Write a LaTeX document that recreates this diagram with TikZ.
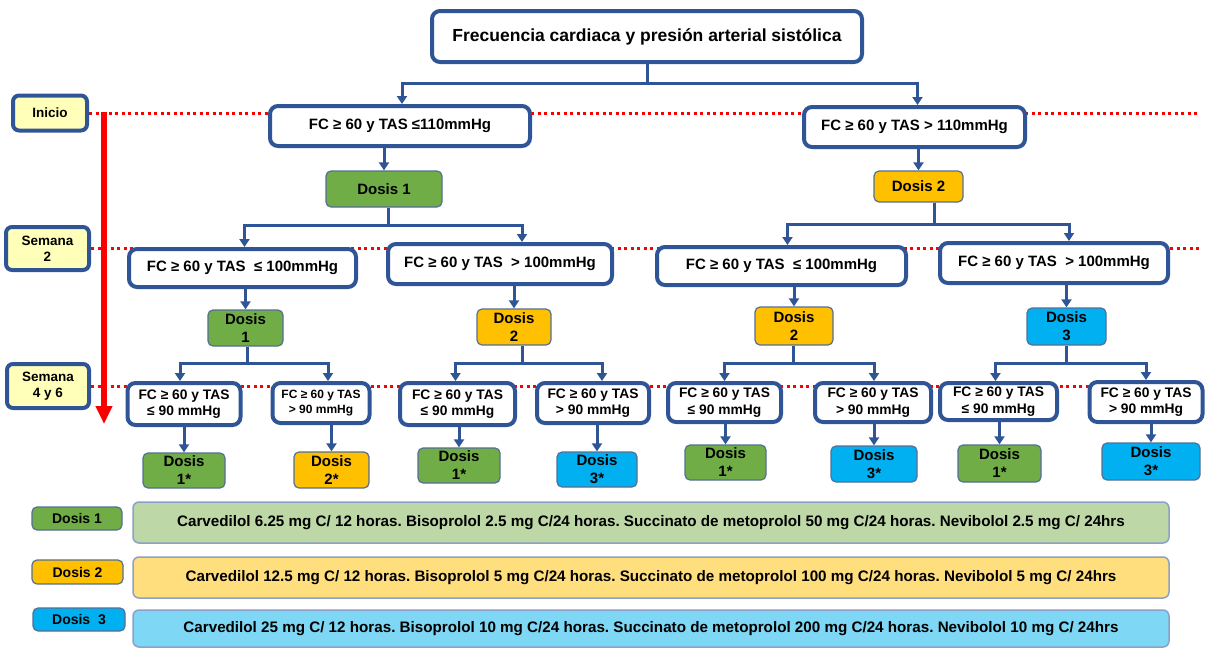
\documentclass[tikz,border=0pt]{standalone}
\usepackage{fontspec}
\setmainfont{Liberation Sans}
\usetikzlibrary{arrows.meta}
\frenchspacing
\definecolor{azul}{RGB}{47,85,151}
\definecolor{rojo}{RGB}{250,0,0}
\definecolor{amarillo}{RGB}{255,255,185}
\definecolor{verde}{RGB}{112,173,71}
\definecolor{naranja}{RGB}{255,192,0}
\definecolor{celeste}{RGB}{0,176,240}
\definecolor{borde}{RGB}{85,110,150}
\definecolor{verdeclaro}{RGB}{189,215,166}
\definecolor{amarilloclaro}{RGB}{255,222,125}
\definecolor{celesteclaro}{RGB}{125,215,245}
\definecolor{grisazul}{RGB}{140,160,200}
\begin{document}
\begin{tikzpicture}[x=1pt, y=-1pt,
  caja/.style={draw=azul, line width=4pt, rounded corners=8pt, fill=white,
    align=center, inner sep=0pt, font=\bfseries\fontsize{15}{18}\selectfont},
  chica/.style={caja, font=\bfseries\fontsize{13.8}{16.7}\selectfont},
  etapa/.style={draw=azul, line width=4pt, rounded corners=6pt, fill=amarillo,
    align=center, inner sep=0pt, font=\bfseries\fontsize{13.5}{16}\selectfont},
  dosis/.style={draw=borde, line width=1.2pt, rounded corners=5pt, align=center,
    inner sep=0pt, font=\bfseries\fontsize{15}{18}\selectfont},
  dverde/.style={dosis, fill=verde},
  dnaranja/.style={dosis, fill=naranja},
  dceleste/.style={dosis, fill=celeste},
  barra/.style={draw=grisazul, line width=1.5pt, rounded corners=6pt, inner sep=0pt,
    minimum width=1036pt, font=\bfseries\fontsize{15.2}{18}\selectfont},
  flecha/.style={draw=azul, line width=3pt, -{Triangle[width=10pt,length=8pt]}},
  guia/.style={draw=rojo, line width=3pt, dash pattern=on 3pt off 3.5pt},
  tiempo/.style={draw=rojo, line width=6pt, -{Triangle[width=16pt,length=18pt]}}]
  \useasboundingbox (0,0) rectangle (1205,649);
  % etapas
  \node[etapa, minimum width=74pt, minimum height=35pt] (inicio) at (50,113) {Inicio};
  \node[etapa, minimum width=83pt, minimum height=43pt] (sem2) at (47.5,248.5) {Semana\\2};
  \node[etapa, minimum width=82pt, minimum height=44pt] (sem4) at (48,386) {Semana\\4 y 6};
  \coordinate (fin) at (1200,0);
  \foreach \n in {inicio, sem2, sem4}
    \draw[guia] (\n.east) -- (\n.east -| fin);
  \coordinate (t0) at (104,112);
  \coordinate (t1) at (104,424);
  \draw[tiempo] (t0) -- (t1);
  % raiz y primer nivel
  \node[caja, minimum width=430pt, minimum height=51pt, font=\bfseries\fontsize{17.5}{20}\selectfont]
    (raiz) at (647,36.5) {Frecuencia cardiaca y presión arterial sistólica};
  \node[caja, minimum width=260pt, minimum height=40pt] (l1a) at (400,126) {FC ≥ 60 y TAS ≤110mmHg};
  \node[caja, minimum width=221pt, minimum height=40pt] (l1b) at (914.5,127) {FC ≥ 60 y TAS > 110mmHg};
  \node[dverde, minimum width=116pt, minimum height=36pt] (da) at (384,189) {Dosis 1};
  \node[dnaranja, minimum width=89pt, minimum height=31pt] (db) at (918.5,186.5) {Dosis 2};
  % semana 2
  \node[caja, minimum width=227pt, minimum height=38pt] (l2a) at (242.5,268) {FC ≥ 60 y TAS \ ≤ 100mmHg};
  \node[caja, minimum width=224pt, minimum height=40pt] (l2b) at (500,264) {FC ≥ 60 y TAS \ > 100mmHg};
  \node[caja, minimum width=249pt, minimum height=38pt] (l2c) at (781.5,266) {FC ≥ 60 y TAS \ ≤ 100mmHg};
  \node[caja, minimum width=228pt, minimum height=40pt] (l2d) at (1054,263) {FC ≥ 60 y TAS \ > 100mmHg};
  \node[dverde, minimum width=75pt, minimum height=36pt] (ea) at (245.5,328) {Dosis\\1};
  \node[dnaranja, minimum width=74pt, minimum height=36pt] (eb) at (514,327) {Dosis\\2};
  \node[dnaranja, minimum width=78pt, minimum height=38pt] (ec) at (794,326) {Dosis\\2};
  \node[dceleste, minimum width=79pt, minimum height=37pt] (ed) at (1066.5,326.5) {Dosis\\3};
  % semanas 4 y 6
  \node[chica, minimum width=113pt, minimum height=42pt] (l3a) at (184,404) {FC ≥ 60 y TAS\\≤ 90 mmHg};
  \node[chica, minimum width=97pt, minimum height=40pt, font=\bfseries\fontsize{12}{15.5}\selectfont]
    (l3b) at (321,403) {FC ≥ 60 y TAS\\> 90 mmHg};
  \node[chica, minimum width=115pt, minimum height=42pt] (l3c) at (457.5,404) {FC ≥ 60 y TAS\\≤ 90 mmHg};
  \node[chica, minimum width=112pt, minimum height=40pt] (l3d) at (593,403) {FC ≥ 60 y TAS\\> 90 mmHg};
  \node[chica, minimum width=113pt, minimum height=39pt] (l3e) at (724.5,402.5) {FC ≥ 60 y TAS\\≤ 90 mmHg};
  \node[chica, minimum width=116pt, minimum height=39pt] (l3f) at (873,402.5) {FC ≥ 60 y TAS\\> 90 mmHg};
  \node[chica, minimum width=117pt, minimum height=37pt] (l3g) at (998.5,401.5) {FC ≥ 60 y TAS\\≤ 90 mmHg};
  \node[chica, minimum width=113pt, minimum height=40pt] (l3h) at (1146,402) {FC ≥ 60 y TAS\\> 90 mmHg};
  \node[dverde, minimum width=82pt, minimum height=35pt] (fa) at (184,470.5) {Dosis\\1*};
  \node[dnaranja, minimum width=75pt, minimum height=36pt] (fb) at (331.5,470) {Dosis\\2*};
  \node[dverde, minimum width=82pt, minimum height=35pt] (fc) at (459,465.5) {Dosis\\1*};
  \node[dceleste, minimum width=80pt, minimum height=35pt] (fd) at (597,469.5) {Dosis\\3*};
  \node[dverde, minimum width=81pt, minimum height=35pt] (fe) at (725.5,462.5) {Dosis\\1*};
  \node[dceleste, minimum width=86pt, minimum height=36pt] (ff) at (874,464) {Dosis\\3*};
  \node[dverde, minimum width=83pt, minimum height=37pt] (fg) at (999.5,463.5) {Dosis\\1*};
  \node[dceleste, minimum width=98pt, minimum height=37pt] (fh) at (1151,461.5) {Dosis\\3*};
  % ramas
  \foreach \p/\px/\d/\h/\hx in {raiz/0/19/l1a/2, raiz/0/19/l1b/3,
      da/4/18/l2a/2, da/4/18/l2b/22, db/16/22/l2c/6, db/16/22/l2d/15,
      ea/2/17/l3a/-4, ea/2/17/l3b/7, eb/8/18/l3c/-2, eb/8/18/l3d/9,
      ec/-1/18/l3e/0, ec/-1/18/l3f/1, ed/0/18/l3g/-3, ed/0/18/l3h/0}
    \draw[flecha] ([xshift=\px pt]\p.south) -- ++(0,\d) -| ([xshift=\hx pt]\h.north);
  \foreach \a/\b in {l1a/da, l1b/db, l2a/ea, l2b/eb, l2c/ec, l2d/ed,
      l3a/fa, l3b/fb, l3c/fc, l3d/fd, l3e/fe, l3f/ff, l3g/fg, l3h/fh}
    \draw[flecha] (\a.south -| \b.north) -- (\b.north);
  % leyenda
  \node[dverde, minimum width=90pt, minimum height=23pt, font=\bfseries\fontsize{14}{16}\selectfont]
    (la) at (77,518.5) {Dosis 1};
  \node[dnaranja, minimum width=91pt, minimum height=24pt, font=\bfseries\fontsize{14}{16}\selectfont]
    (lb) at (77.5,572) {Dosis 2};
  \node[dceleste, minimum width=92pt, minimum height=23pt, font=\bfseries\fontsize{14}{16}\selectfont]
    (lc) at (79,619.5) {Dosis \ 3};
  \node[barra, fill=verdeclaro, minimum height=41pt] (ba) at (651,522.5)
    {Carvedilol 6.25 mg C/ 12 horas. Bisoprolol 2.5 mg C/24 horas. Succinato de metoprolol 50 mg C/24 horas. Nevibolol 2.5 mg C/ 24hrs};
  \node[barra, fill=amarilloclaro, minimum height=41pt] (bb) at (651,577.5)
    {Carvedilol 12.5 mg C/ 12 horas. Bisoprolol 5 mg C/24 horas. Succinato de metoprolol 100 mg C/24 horas. Nevibolol 5 mg C/ 24hrs};
  \node[barra, fill=celesteclaro, minimum height=37pt] (bc) at (651,628.5)
    {Carvedilol 25 mg C/ 12 horas. Bisoprolol 10 mg C/24 horas. Succinato de metoprolol 200 mg C/24 horas. Nevibolol 10 mg C/ 24hrs};
\end{tikzpicture}
\end{document}
